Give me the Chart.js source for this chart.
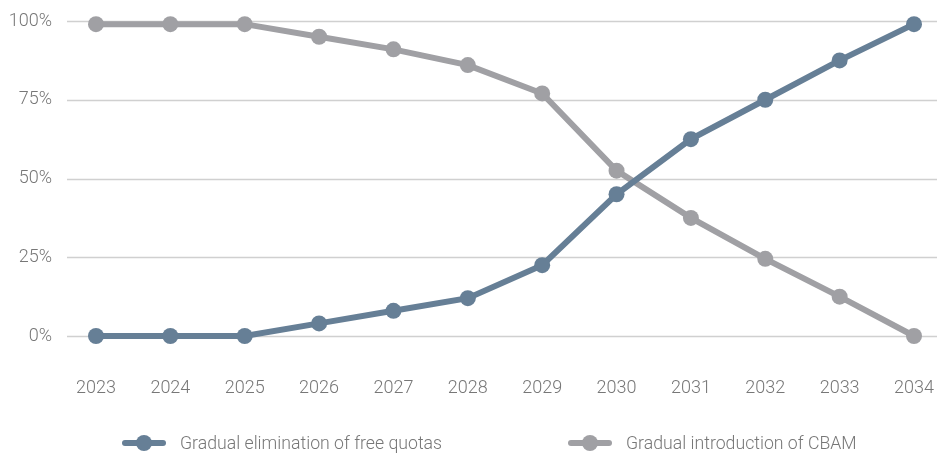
<!DOCTYPE html>
<html>
<head>
<meta charset="utf-8">
<script src="https://cdn.jsdelivr.net/npm/chart.js@4/dist/chart.umd.min.js"></script>
<style>
    html, body { margin: 0; padding: 0; background: #fff; }
    #wrap { position: relative; width: 937px; height: 454px; }
    #legend {
        position: absolute; left: 0; top: 432px; width: 937px; height: 22px;
        font-family: Roboto, sans-serif; font-weight: 300; font-size: 17.7px; color: #777;
    }
    .item { position: absolute; top: 0; display: flex; align-items: center; height: 22px; white-space: nowrap; }
    .icon { position: relative; width: 44px; height: 22px; margin-right: 14px; }
    .icon .bar { position: absolute; left: 0; top: 8px; width: 44px; height: 6px; border-radius: 3px; }
    .icon .dot { position: absolute; left: 14px; top: 3px; width: 16px; height: 16px; border-radius: 50%; }
</style>
</head>
<body>
<div id="wrap">
    <canvas id="chart" width="937" height="454"></canvas>
    <div id="legend"></div>
</div>
<script>
// Years on the x axis
const years = ['2023', '2024', '2025', '2026', '2027', '2028', '2029', '2030', '2031', '2032', '2033', '2034'];

// Share in percent for each year
const freeQuotasElimination = [0, 0, 0, 4, 8, 12, 22.5, 45, 62.5, 75, 87.5, 99];
const cbamIntroduction = [99, 99, 99, 95, 91, 86, 77, 52.5, 37.5, 24.5, 12.5, 0];

const seriesNames = ['Gradual elimination of free quotas', 'Gradual introduction of CBAM'];
const seriesColors = ['#667f96', '#a0a0a4'];

const yTicks = [0, 25, 50, 75, 100];

// Horizontal grid lines run wider than the plot area
const wideGrid = {
    id: 'wideGrid',
    beforeDatasetsDraw(chart) {
        const ctx = chart.ctx;
        const y = chart.scales.y;
        ctx.save();
        ctx.strokeStyle = '#d0d0d0';
        ctx.lineWidth = 1.5;
        yTicks.forEach(v => {
            const py = Math.round(y.getPixelForValue(v)) + 0.5;
            ctx.beginPath();
            ctx.moveTo(67, py);
            ctx.lineTo(chart.width, py);
            ctx.stroke();
        });
        ctx.restore();
    }
};

const makeDataset = (label, data, color) => ({
    label,
    data,
    borderColor: color,
    backgroundColor: color,
    borderWidth: 6,
    pointRadius: 8,
    pointHoverRadius: 8,
    pointBorderWidth: 0,
    tension: 0,
    clip: false
});

const tickFont = { family: 'Roboto', weight: '300', size: 18 };

new Chart(document.getElementById('chart'), {
    type: 'line',
    data: {
        labels: years,
        datasets: [
            makeDataset(seriesNames[0], freeQuotasElimination, seriesColors[0]),
            makeDataset(seriesNames[1], cbamIntroduction, seriesColors[1])
        ]
    },
    options: {
        responsive: false,
        animation: false,
        layout: { autoPadding: false, padding: { left: 8, right: 23, top: 21, bottom: 54 } },
        plugins: { legend: { display: false }, tooltip: { enabled: false } },
        scales: {
            x: {
                offset: false,
                grid: { display: false, drawTicks: false },
                border: { display: false },
                ticks: { color: '#777', font: tickFont, padding: 42, maxRotation: 0, autoSkip: false },
                afterFit: axis => {
                    axis.height = 64;
                    axis.paddingLeft = 0;
                    axis.paddingRight = 0;
                }
            },
            y: {
                min: 0,
                max: 100,
                afterBuildTicks: axis => { axis.ticks = yTicks.map(v => ({ value: v })); },
                grid: { display: false, drawTicks: false },
                border: { display: false },
                ticks: {
                    color: '#777',
                    font: tickFont,
                    padding: 44,
                    callback: v => v + '%'
                },
                afterFit: axis => {
                    axis.width = 88;
                    axis.paddingTop = 0;
                    axis.paddingBottom = 0;
                }
            }
        }
    },
    plugins: [wideGrid]
});

// Legend under the chart
const legendPositions = [122, 568];
const legend = document.getElementById('legend');
seriesNames.forEach((name, i) => {
    const item = document.createElement('div');
    item.className = 'item';
    item.style.left = legendPositions[i] + 'px';
    item.innerHTML = `
        <span class="icon">
            <span class="bar" style="background:${seriesColors[i]}"></span>
            <span class="dot" style="background:${seriesColors[i]}"></span>
        </span>
        <span>${name}</span>`;
    legend.appendChild(item);
});
</script>
</body>
</html>
